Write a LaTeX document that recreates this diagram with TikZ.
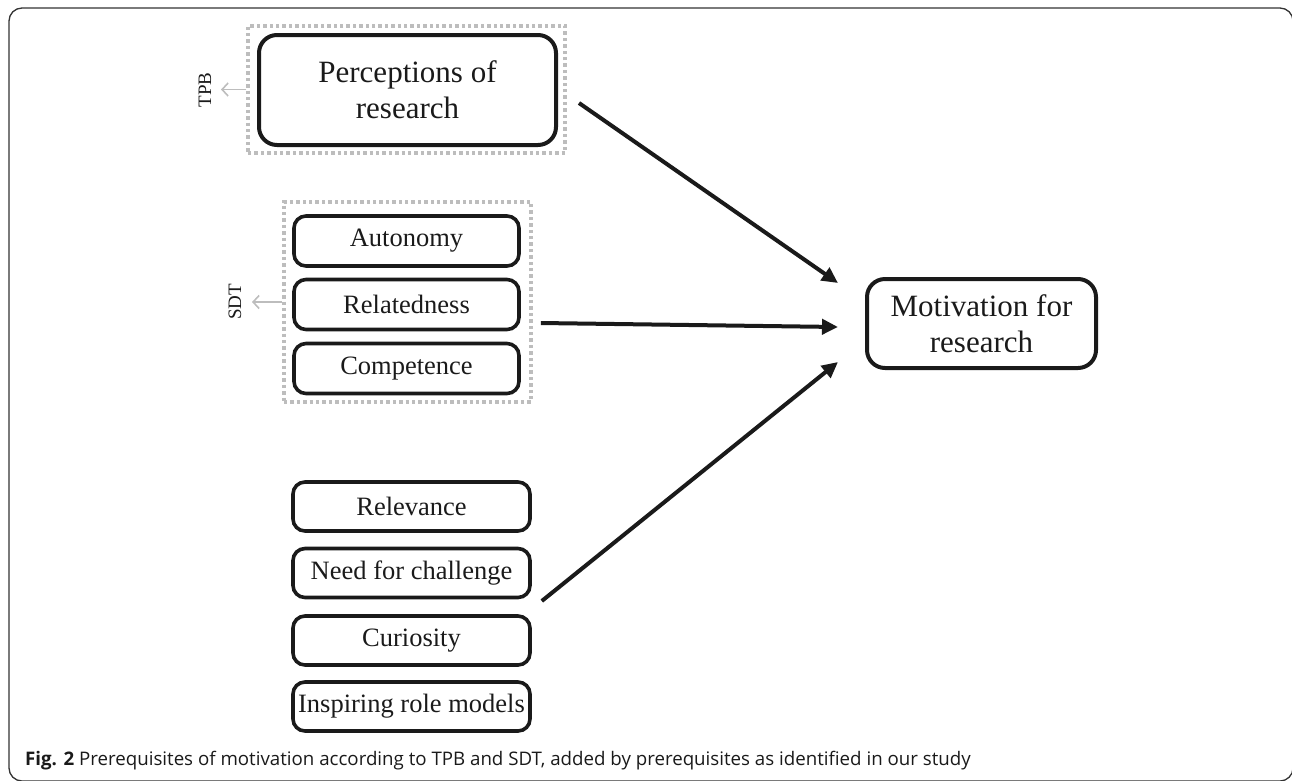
\documentclass[tikz,border=0pt]{standalone}
\usepackage{fontspec}
\setmainfont{Liberation Serif}
\newfontfamily\capfont{Open Sans}
\usetikzlibrary{arrows.meta,calc}
\definecolor{dotgray}{HTML}{BDBDBD}
\definecolor{ink}{HTML}{1A1A1A}
\begin{document}
\begin{tikzpicture}[x=1pt,y=-1pt,
  box/.style={draw=ink, line width=3.6pt, rounded corners=12pt, minimum width=225pt, minimum height=50pt, inner sep=0pt, font=\fontsize{26.5}{30}\selectfont, text=ink},
  lowbox/.style={box, minimum width=237pt, minimum height=49pt},
  bigbox/.style={draw=ink, line width=4pt, rounded corners=18pt, inner sep=0pt, align=center, font=\fontsize{31}{36}\selectfont, text=ink},
  grp/.style={draw=dotgray, line width=3.2pt, dash pattern=on 3.4pt off 3pt, inner sep=0pt},
  arr/.style={draw=ink, line width=4pt, -{Triangle[length=16pt,width=15pt]}},
  garr/.style={draw=dotgray, line width=1.6pt, -{Straight Barb[length=6pt,width=13pt]}},
  lbl/.style={rotate=90, font=\fontsize{19}{19}\selectfont, text=ink, inner sep=0pt}
]
\useasboundingbox (0,0) rectangle (1292,780);
\clip (0,0) rectangle (1292,780);
\draw[line width=1.3pt, black!80, rounded corners=13pt] (9,8) rectangle (1293,781);

% TPB group
\node[grp, minimum width=317pt, minimum height=127pt] (tpbgrp) at (406.5,89.5) {};
\node[bigbox, minimum width=297pt, minimum height=110pt] (perc) at (407.5,90) {Perceptions of\\research};
\node[lbl] (tpb) at (205,90) {TPB};
\coordinate (tpbtip) at (221,89.5);
\draw[garr] (tpbgrp.west) -- (tpbtip);

% SDT group
\node[grp, minimum width=247pt, minimum height=200pt] (sdtgrp) at (407.5,302) {};
\node[box] (aut) at (406.5,241) {Autonomy};
\node[box] (rel) at (406.5,304.5) {Relatedness};
\node[box] (comp) at (406.5,368.5) {Competence};
\node[lbl] (sdt) at (235,302) {SDT};
\coordinate (sdttip) at (252,302);
\draw[garr] (sdtgrp.west) -- (sdttip);

% own study
\node[lowbox] (relev) at (411.5,506.5) {Relevance};
\node[lowbox] (need) at (411.5,573) {Need for challenge};
\node[lowbox] (cur) at (411.5,640.5) {Curiosity};
\node[lowbox] (insp) at (411.5,706.5) {Inspiring role models};

% target
\node[bigbox, minimum width=229pt, minimum height=89pt] (mot) at (981.5,323.5) {Motivation for\\research};

% arrows
\draw[arr] ($(perc.east)+(21,13)$) -- ($(mot.west)+(-27,-40.5)$);
\draw[arr] ($(rel.east)+(20,18.5)$) -- ($(mot.west)+(-27,3.5)$);
\draw[arr] ($(need.east)+(10,28)$) -- ($(mot.west)+(-27,38.5)$);

% caption
\node[anchor=base west, inner sep=0pt, text=ink, font=\capfont\fontsize{18.7}{18.7}\selectfont] (cap) at (25,765) {\textbf{Fig. 2} Prerequisites of motivation according to TPB and SDT, added by prerequisites as identified in our study};
\end{tikzpicture}
\end{document}
